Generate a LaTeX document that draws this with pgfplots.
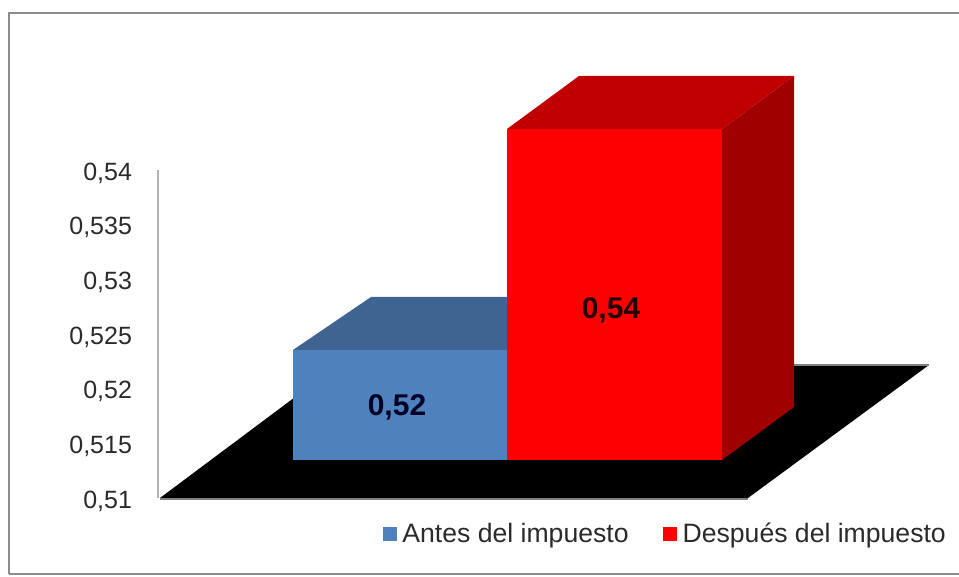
\documentclass[border=0pt]{standalone}
\usepackage{pgfplots}
\pgfplotsset{compat=1.18}
\usepackage{fontspec}
\setmainfont{Liberation Sans}
\definecolor{bluefront}{HTML}{4F81BD}
\definecolor{bluetop}{HTML}{3F6491}
\definecolor{redfront}{HTML}{FF0000}
\definecolor{redtop}{HTML}{C00000}
\definecolor{redside}{HTML}{A00000}
\definecolor{axgray}{HTML}{B4B4B4}
\definecolor{txt}{HTML}{2A2A2A}
\definecolor{framegray}{HTML}{8C8C8C}
\begin{document}
\begin{tikzpicture}
\path[use as bounding box] (0,0) rectangle (479.5pt,288.5pt);
\draw[framegray,line width=1pt] (4.25pt,1.25pt) -- (4.25pt,282pt) -- (481pt,282pt);
\draw[framegray,line width=1pt] (4.25pt,1.25pt) -- (481pt,1.25pt);
\begin{axis}[
  at={(79pt,39.5pt)}, anchor=south west,
  scale only axis, width=400.5pt, height=164pt,
  xmin=158, xmax=959, ymin=0.51, ymax=0.54,
  clip=false,
  axis y line=left, axis x line=none,
  y axis line style={-,axgray,line width=1.2pt},
  ytick={0.51,0.515,0.52,0.525,0.53,0.535,0.54},
  major tick length=0pt,
  tick label style={font=\fontsize{12.5}{15}\selectfont,text=txt},
  yticklabel style={/pgf/number format/fixed,/pgf/number format/precision=3,/pgf/number format/use comma,/pgf/number format/assume math mode=true,xshift=-9.5pt,yshift=-1.5pt},
  legend style={draw=none,fill=none,at={(axis cs:383,0.50671)},anchor=west,legend columns=2,
    font=\fontsize{13.3}{15}\selectfont,text=txt,inner sep=0pt,
    /tikz/every even column/.append style={column sep=15.5pt},
    /tikz/every odd column/.append style={column sep=1pt}},
  legend cell align=left,
]
% floor
\addplot[draw=none,fill=black,forget plot] coordinates {(160,0.51) (748,0.51) (929,0.522165) (338,0.522165)} -- cycle;
\addplot[gray,line width=0.6pt,forget plot] coordinates {(160,0.50991) (748,0.50991)};
\addplot[gray,line width=0.6pt,forget plot] coordinates {(338,0.522165) (929,0.522165)};
% blue bar (0,52)
\addplot[draw=none,fill=bluetop,forget plot] coordinates {(293,0.523537) (507,0.523537) (585,0.528384) (371,0.528384)} -- cycle;
\addplot[draw=none,fill=bluefront,forget plot] coordinates {(293,0.513476) (507,0.513476) (507,0.523537) (293,0.523537)} -- cycle;
% red bar (0,54)
\addplot[draw=none,fill=redtop,forget plot] coordinates {(507,0.543750) (722,0.543750) (794,0.548598) (579,0.548598)} -- cycle;
\addplot[draw=none,fill=redside,forget plot] coordinates {(722,0.513476) (794,0.518323) (794,0.548598) (722,0.543750)} -- cycle;
\addplot[draw=none,fill=redfront,forget plot] coordinates {(507,0.513476) (722,0.513476) (722,0.543750) (507,0.543750)} -- cycle;
% value labels
\node[font=\fontsize{15}{17}\bfseries\selectfont,text=black!85!blue] at (axis cs:397,0.51830) {0,52};
\node[font=\fontsize{15}{17}\bfseries\selectfont,text=black!85!red] at (axis cs:611,0.52720) {0,54};
% legend
\addlegendimage{only marks,mark=square*,mark size=3.25pt,color=bluefront}
\addlegendentry{Antes del impuesto}
\addlegendimage{only marks,mark=square*,mark size=3.25pt,color=redfront}
\addlegendentry{Después del impuesto}
\end{axis}
\end{tikzpicture}
\end{document}
